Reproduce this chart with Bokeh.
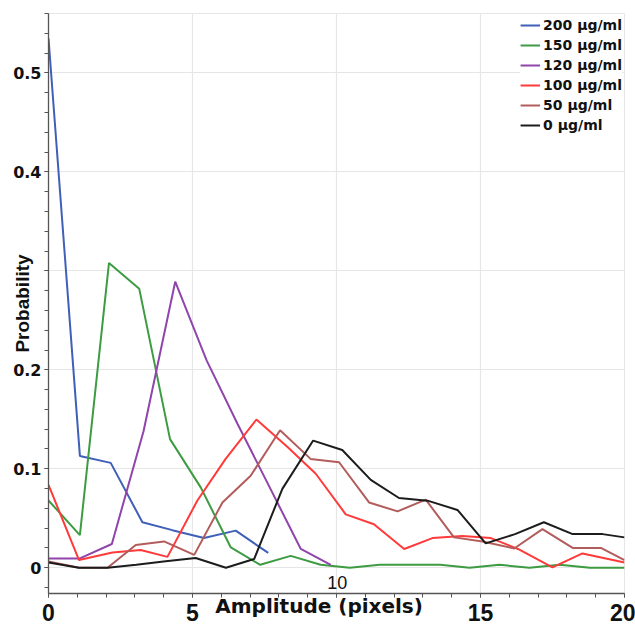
from bokeh.plotting import figure
from bokeh.models import FixedTicker, Label
from bokeh.embed import file_html
from bokeh.resources import INLINE

# ---- data ----
series_names = ["200 µg/ml", "150 µg/ml", "120 µg/ml", "100 µg/ml", "50 µg/ml", "0 µg/ml"]

blue_x = [0, 1.09, 2.16, 3.26, 4.3, 5.4, 6.5, 7.63]
blue_y = [0.535, 0.113, 0.106, 0.046, 0.038, 0.030, 0.0375, 0.015]

green_x = [0, 1.09, 2.10, 3.15, 4.22, 5.29, 6.33, 7.35, 8.41, 9.45, 10.46, 11.5, 12.55,
           13.6, 14.62, 15.66, 16.7, 17.75, 18.8, 20]
green_y = [0.068, 0.033, 0.308, 0.282, 0.130, 0.081, 0.0205, 0.003, 0.012, 0.003, 0.0,
           0.003, 0.003, 0.003, 0.0, 0.003, 0.0, 0.003, 0.0, 0.0]

purple_x = [0, 1.09, 2.2, 3.3, 4.4, 5.49, 6.57, 7.65, 8.76, 9.8]
purple_y = [0.0094, 0.0094, 0.024, 0.138, 0.289, 0.2095, 0.145, 0.083, 0.019, 0.003]

red_x = [0, 1.06, 2.22, 3.2, 4.13, 5.17, 6.15, 7.22, 8.3, 9.28, 10.32, 11.3, 12.35, 13.33,
         14.37, 15.36, 16.3, 17.5, 18.54, 20]
red_y = [0.0837, 0.0078, 0.0155, 0.018, 0.011, 0.068, 0.110, 0.1498, 0.122, 0.095, 0.054,
         0.044, 0.019, 0.030, 0.032, 0.030, 0.019, 0.0003, 0.0145, 0.0054]

brown_x = [0, 1.06, 2.05, 3.03, 4.01, 5.06, 6.04, 7.02, 8.04, 9.1, 10.09, 11.13, 12.12,
           13.1, 14.08, 15.07, 16.17, 17.15, 18.2, 19.18, 20]
brown_y = [0.0064, 0.0, 0.0, 0.023, 0.0266, 0.013, 0.066, 0.093, 0.139, 0.110, 0.1066,
           0.066, 0.057, 0.0688, 0.0307, 0.0266, 0.0195, 0.039, 0.020, 0.020, 0.0078]

black_x = [0, 1.06, 2.05, 3.05, 4.07, 5.11, 6.16, 7.14, 8.12, 9.19, 10.2, 11.19, 12.17,
           13.16, 14.2, 15.18, 16.2, 17.2, 18.2, 19.24, 20]
black_y = [0.0054, 0.0, 0.0, 0.003, 0.0065, 0.0098, 0.0, 0.0088, 0.0797, 0.1285, 0.119,
           0.0888, 0.0705, 0.0678, 0.0584, 0.0246, 0.034, 0.046, 0.034, 0.034, 0.0307]

x_ticks = [0, 5, 10, 15, 20]
x_tick_labels = ["0", "5", "", "15", "20"]
y_ticks = [0, 0.1, 0.2, 0.3, 0.4, 0.5]
y_tick_labels = ["0", "0.1", "0.2", "", "0.4", "0.5"]

colors = ["#3f5fb8", "#3d9b42", "#8f45aa", "#ff3a3a", "#b35c5c", "#1c1c1c"]

ARIAL = "Liberation Sans"
WIDE = "DejaVu Sans"

p = figure(width=635, height=625, x_range=(0, 20), y_range=(-0.026, 0.56),
           output_backend="svg", toolbar_location=None,
           min_border_left=48, min_border_right=11, min_border_top=13, min_border_bottom=32)

series = [(blue_x, blue_y), (green_x, green_y), (purple_x, purple_y),
          (red_x, red_y), (brown_x, brown_y), (black_x, black_y)]
for (xs, ys), name, c in zip(series, series_names, colors):
    p.line(xs, ys, line_color=c, line_width=2, legend_label=name)

# axes
p.xaxis.ticker = FixedTicker(ticks=x_ticks, minor_ticks=list(range(0, 21)))
p.yaxis.ticker = FixedTicker(ticks=y_ticks,
                             minor_ticks=[round(-0.02 + 0.02 * i, 2) for i in range(30)])
p.xaxis.major_label_overrides = dict(zip(x_ticks, x_tick_labels))
p.yaxis.major_label_overrides = dict(zip(y_ticks, y_tick_labels))

for ax in (p.xaxis, p.yaxis):
    ax.axis_line_color = "#555555"
    ax.axis_line_width = 1.3
    ax.major_tick_line_color = "#555555"
    ax.minor_tick_line_color = "#555555"
    ax.major_tick_in = 0
    ax.major_tick_out = 4
    ax.minor_tick_in = 0
    ax.minor_tick_out = 4
    ax.major_label_text_font_style = "bold"
    ax.major_label_text_color = "#111111"
    ax.axis_label_text_font_style = "bold"
    ax.axis_label_text_color = "#111111"

p.xaxis.major_label_text_font = ARIAL
p.xaxis.major_label_text_font_size = "23px"
p.xaxis.major_label_standoff = 6
p.xaxis.axis_label = "Amplitude (pixels)" + "\u00a0" * 5
p.xaxis.axis_label_text_font = WIDE
p.xaxis.axis_label_text_font_size = "20px"
p.xaxis.axis_label_standoff = -30

p.yaxis.major_label_text_font = WIDE
p.yaxis.major_label_text_font_size = "16px"
p.yaxis.major_label_standoff = 3
p.yaxis.axis_label = "Probability"
p.yaxis.axis_label_text_font = ARIAL
p.yaxis.axis_label_text_font_size = "19px"
p.yaxis.axis_label_standoff = -23

p.xgrid.grid_line_color = "#e6e6e6"
p.ygrid.grid_line_color = "#e6e6e6"
p.xgrid.grid_line_width = 1.2
p.ygrid.grid_line_width = 1.2
p.outline_line_color = "#e6e6e6"

# legend
lg = p.legend[0]
lg.location = "top_right"
lg.border_line_color = None
lg.background_fill_alpha = 1.0
lg.label_text_font = WIDE
lg.label_text_font_style = "bold"
lg.label_text_font_size = "14px"
lg.label_text_color = "#111111"
lg.glyph_width = 20
lg.glyph_height = 20
lg.label_height = 20
lg.spacing = 0
lg.label_standoff = 3
lg.padding = 4
lg.margin = 2

# the "10" tick label sits inside the plot area in the reference
p.add_layout(Label(x=10.03, y=-0.0147, text="10", text_font=ARIAL, text_font_size="18px",
                   text_align="center", text_baseline="middle", text_color="#111111"))

open("out.html", "w").write(file_html(p, INLINE))
